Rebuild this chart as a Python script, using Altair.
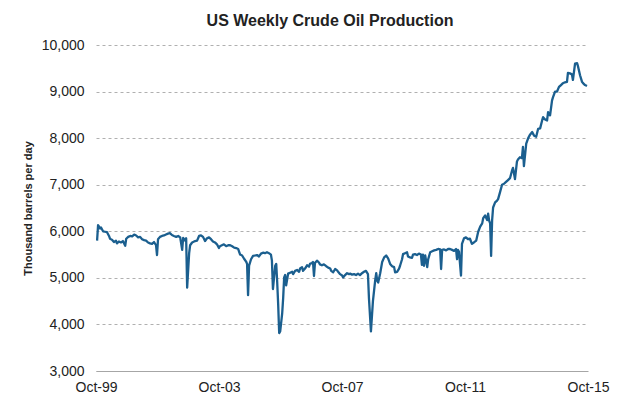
import altair as alt
import pandas as pd

# time position of each reading, as decimal years
year_pos = [
    1999.785, 1999.817, 1999.850, 1999.882, 1999.914, 1999.979, 2000.044, 2000.108, 2000.173, 2000.205,
    2000.270, 2000.334, 2000.399, 2000.431, 2000.496, 2000.561, 2000.625, 2000.700, 2000.732, 2000.797,
    2000.862, 2000.926, 2000.991, 2001.056, 2001.120, 2001.185, 2001.249, 2001.314, 2001.379, 2001.443,
    2001.508, 2001.573, 2001.637, 2001.702, 2001.734, 2001.767, 2001.831, 2001.896, 2001.960, 2002.025,
    2002.090, 2002.154, 2002.219, 2002.284, 2002.358, 2002.423, 2002.488, 2002.552, 2002.585, 2002.649,
    2002.682, 2002.714, 2002.779, 2002.811, 2002.876, 2002.973, 2003.037, 2003.102, 2003.166, 2003.231,
    2003.296, 2003.360, 2003.425, 2003.490, 2003.554, 2003.619, 2003.684, 2003.748, 2003.780, 2003.845,
    2003.910, 2003.984, 2004.049, 2004.114, 2004.178, 2004.243, 2004.308, 2004.372, 2004.437, 2004.502,
    2004.566, 2004.631, 2004.663, 2004.695, 2004.728, 2004.792, 2004.857, 2004.922, 2004.986, 2005.051,
    2005.116, 2005.180, 2005.245, 2005.310, 2005.374, 2005.439, 2005.471, 2005.504, 2005.578, 2005.611,
    2005.643, 2005.675, 2005.707, 2005.740, 2005.804, 2005.837, 2005.869, 2005.901, 2005.934, 2005.998,
    2006.063, 2006.128, 2006.160, 2006.225, 2006.289, 2006.354, 2006.386, 2006.451, 2006.483, 2006.548,
    2006.613, 2006.677, 2006.709, 2006.774, 2006.806, 2006.839, 2006.871, 2006.936, 2007.000, 2007.033,
    2007.097, 2007.162, 2007.237, 2007.301, 2007.366, 2007.398, 2007.463, 2007.527, 2007.592, 2007.624,
    2007.689, 2007.754, 2007.786, 2007.851, 2007.915, 2007.980, 2008.012, 2008.077, 2008.142, 2008.206,
    2008.271, 2008.335, 2008.400, 2008.465, 2008.529, 2008.594, 2008.626, 2008.691, 2008.756, 2008.830,
    2008.863, 2008.895, 2008.927, 2008.992, 2009.056, 2009.121, 2009.186, 2009.250, 2009.315, 2009.380,
    2009.444, 2009.477, 2009.541, 2009.606, 2009.638, 2009.703, 2009.735, 2009.800, 2009.865, 2009.897,
    2009.962, 2010.026, 2010.059, 2010.123, 2010.188, 2010.252, 2010.317, 2010.349, 2010.382, 2010.414,
    2010.456, 2010.521, 2010.553, 2010.618, 2010.683, 2010.747, 2010.812, 2010.877, 2010.941, 2010.973,
    2011.006, 2011.070, 2011.135, 2011.200, 2011.264, 2011.329, 2011.394, 2011.458, 2011.491, 2011.523,
    2011.555, 2011.620, 2011.652, 2011.717, 2011.781, 2011.846, 2011.911, 2011.975, 2012.040, 2012.115,
    2012.179, 2012.244, 2012.309, 2012.341, 2012.405, 2012.470, 2012.502, 2012.535, 2012.567, 2012.599,
    2012.632, 2012.664, 2012.729, 2012.793, 2012.826, 2012.890, 2012.955, 2013.019, 2013.084, 2013.149,
    2013.213, 2013.278, 2013.310, 2013.342, 2013.375, 2013.440, 2013.472, 2013.537, 2013.601, 2013.634,
    2013.666, 2013.741, 2013.805, 2013.870, 2013.935, 2013.999, 2014.064, 2014.129, 2014.193, 2014.258,
    2014.290, 2014.355, 2014.419, 2014.452, 2014.516, 2014.581, 2014.613, 2014.678, 2014.743, 2014.807,
    2014.872, 2014.936, 2015.001, 2015.066, 2015.098, 2015.163, 2015.227, 2015.260, 2015.329, 2015.394,
    2015.426, 2015.491, 2015.556, 2015.588, 2015.653, 2015.717,
]

# thousand barrels per day
production = [
    5800, 6130, 6100, 6060, 6080, 6000, 5990, 5980, 5900, 5840,
    5820, 5770, 5800, 5740, 5780, 5760, 5790, 5690, 5840, 5880,
    5900, 5890, 5930, 5910, 5870, 5880, 5830, 5810, 5800, 5760,
    5740, 5730, 5770, 5700, 5490, 5830, 5880, 5900, 5910, 5930,
    5950, 5960, 5920, 5900, 5880, 5900, 5870, 5600, 5860, 5800,
    5850, 4790, 5530, 5700, 5760, 5790, 5800, 5900, 5910, 5880,
    5790, 5850, 5870, 5830, 5780, 5760, 5720, 5640, 5680, 5700,
    5720, 5680, 5700, 5700, 5680, 5650, 5640, 5620, 5500, 5480,
    5410, 5350, 5300, 4630, 5260, 5400, 5470, 5480, 5490, 5460,
    5520, 5540, 5530, 5550, 5530, 5500, 5370, 4760, 5260, 5300,
    4900, 4420, 3815, 3850, 4230, 4570, 5010, 5060, 4840, 5090,
    5110, 5130, 5080, 5150, 5170, 5130, 5200, 5230, 5150, 5200,
    5270, 5240, 5300, 5320, 5340, 5040, 5320, 5370, 5330, 5290,
    5270, 5290, 5250, 5220, 5200, 5150, 5120, 5190, 5160, 5130,
    5080, 5050, 5010, 5060, 5100, 5080, 5090, 5070, 5080, 5060,
    5090, 5060, 5100, 5130, 5150, 5080, 4570, 3850, 4500, 4950,
    5100, 4940, 4900, 5100, 5340, 5440, 5480, 5420, 5300, 5250,
    5230, 5120, 5130, 5200, 5260, 5400, 5510, 5530, 5550, 5460,
    5440, 5430, 5500, 5510, 5490, 5520, 5500, 5280, 5500, 5260,
    5480, 5230, 5400, 5550, 5570, 5590, 5600, 5620, 5610, 5190,
    5600, 5610, 5590, 5620, 5620, 5600, 5580, 5620, 5400, 5600,
    5560, 5050, 5730, 5850, 5870, 5830, 5840, 5730, 5760, 5800,
    5990, 6100, 6170, 6280, 6340, 6240, 6380, 6230, 6170, 5470,
    6240, 6510, 6620, 6660, 6690, 6840, 7000, 7020, 7060, 7100,
    7140, 7300, 7360, 7250, 7120, 7500, 7540, 7590, 7570, 7810,
    7400, 7880, 8000, 8080, 8130, 8050, 8030, 8200, 8210, 8380,
    8450, 8400, 8380, 8560, 8490, 8810, 8880, 9000, 9000, 9100,
    9140, 9180, 9200, 9210, 9400, 9390, 9370, 9250, 9600, 9610,
    9540, 9350, 9210, 9180, 9140, 9120,
]

y_ticks = [3000, 4000, 5000, 6000, 7000, 8000, 9000, 10000]
x_tick_years = [1999, 2003, 2007, 2011, 2015]  # each October

FONT = "Liberation Sans, Arial, sans-serif"
LINE_COLOR = "#1b5f8f"

yp = pd.Series(year_pos)
dates = pd.Timestamp("1999-10-01") + pd.to_timedelta((yp - 1999.75) * 365.25, unit="D")
df = pd.DataFrame({"date": dates.dt.strftime("%Y-%m-%dT%H:%M:%S"), "value": production})

x_vals = [alt.DateTime(year=y, month=10, date=1) for y in x_tick_years]

chart = alt.Chart(df).mark_line(color=LINE_COLOR, strokeWidth=2.3, strokeJoin="round").encode(
    x=alt.X(
        "date:T",
        scale=alt.Scale(domain=[x_vals[0], x_vals[-1]]),
        axis=alt.Axis(
            values=x_vals, format="%b-%y", title=None, grid=False, ticks=False,
            labelFontSize=14, labelColor="#222", labelFont=FONT, labelPadding=9,
            domainColor="#a6a6a6", domainWidth=1, labelFlush=False, labelOverlap=False,
        ),
    ),
    y=alt.Y(
        "value:Q",
        scale=alt.Scale(domain=[3000, 10000], nice=False, zero=False),
        axis=alt.Axis(
            values=y_ticks, format=",.0f", title="Thousand barrels per day",
            titleFontSize=11, titleFont=FONT, titleFontWeight="bold", titleColor="#222",
            titlePadding=8, labelFontSize=14, labelColor="#222", labelFont=FONT,
            labelPadding=12, ticks=False, domain=False,
            gridColor="#b0b0b0", gridDash=[3, 3], gridWidth=1,
        ),
    ),
).properties(
    width=492,
    height=326,
    autosize=alt.AutoSizeParams(type="none"),
    padding={"left": 88, "top": 37, "right": 24, "bottom": 30},
    title=alt.TitleParams(
        "US Weekly Crude Oil Production", fontSize=16, fontWeight="bold",
        font=FONT, color="#222", anchor="middle", offset=9, dx=-12,
    ),
).configure_view(stroke=None)

chart.save("out.html", embed_options={"renderer": "svg", "actions": False})
